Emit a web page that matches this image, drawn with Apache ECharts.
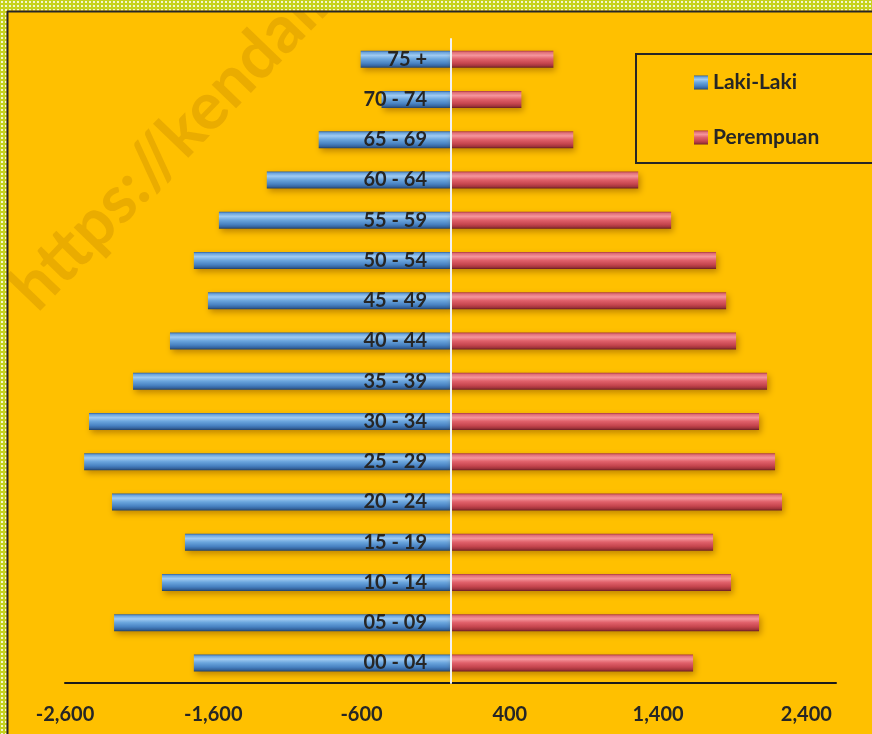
<!DOCTYPE html>
<html>
<head>
<meta charset="utf-8">
<script src="https://cdn.jsdelivr.net/npm/echarts@6/dist/echarts.min.js"></script>
<style>
html,body{margin:0;padding:0;background:#FFC000;}
#chart{width:872px;height:734px;}
</style>
</head>
<body>
<div id="chart"></div>
<script>
var categories = ['00 - 04','05 - 09','10 - 14','15 - 19','20 - 24','25 - 29','30 - 34','35 - 39','40 - 44','45 - 49','50 - 54','55 - 59','60 - 64','65 - 69','70 - 74','75 +'];
var lakiLaki = [-1731, -2269, -1946, -1791, -2283, -2471, -2438, -2141, -1892, -1636, -1731, -1562, -1239, -889, -465, -606];
var perempuan = [1636, 2081, 1892, 1771, 2236, 2189, 2081, 2135, 1926, 1859, 1791, 1488, 1266, 828, 478, 694];
var seriesNames = ['Laki-Laki', 'Perempuan'];
var watermark = 'https://kendalkab.go.id';

var FONT = 'Lato, "Open Sans", sans-serif';

function grad(stops) {
  return new echarts.graphic.LinearGradient(0, 0, 0, 1, stops.map(function (s) { return { offset: s[0], color: s[1] }; }));
}
var blueGrad = grad([[0,'#2c5a96'],[0.1,'#6aa3dc'],[0.28,'#a0cbf2'],[0.5,'#6aa5dd'],[0.75,'#4882c2'],[0.9,'#35649e'],[1,'#24436a']]);
var redGrad = grad([[0,'#a3323a'],[0.1,'#e06f78'],[0.28,'#f5959c'],[0.5,'#e0606a'],[0.75,'#c5454e'],[0.9,'#a2343b'],[1,'#6c1f24']]);

// dotted yellow-green pattern for frame
var pc = document.createElement('canvas');
pc.width = 4; pc.height = 4;
var pctx = pc.getContext('2d');
pctx.fillStyle = '#c6d21e'; pctx.fillRect(0,0,4,4);
pctx.fillStyle = '#f4f6d0'; pctx.fillRect(1,1,2,2);

var GRID_LEFT = 65;
var chart = echarts.init(document.getElementById('chart'), null, {renderer: 'canvas'});
var option = {
  backgroundColor: '#FFC000',
  animation: false,
  grid: { left: GRID_LEFT, right: 36, top: 39, bottom: 51, containLabel: false, outerBoundsMode: 'none' },
  xAxis: {
    type: 'value',
    min: -2600, max: 2600, interval: 1000,
    axisLine: { show: true, onZero: false, lineStyle: { color: '#1a1a1a', width: 2 } },
    axisTick: { show: false },
    splitLine: { show: false },
    axisLabel: {
      showMaxLabel: false,
      margin: 22,
      fontFamily: FONT, fontWeight: 'bold', fontSize: 20, color: '#262626',
      formatter: function (v) { return v.toLocaleString('en-US'); }
    }
  },
  yAxis: {
    type: 'category',
    data: categories,
    z: 10,
    axisLine: { show: true, onZero: true, lineStyle: { color: '#f2f2f2', width: 2 } },
    axisTick: { show: false },
    splitLine: { show: false },
    axisLabel: {
      margin: -(427 - GRID_LEFT),
      align: 'right',
      fontFamily: FONT, fontWeight: 'bold', fontSize: 20, color: '#262626'
    }
  },
  legend: {
    orient: 'vertical',
    left: 689, top: 67,
    itemWidth: 14, itemHeight: 14,
    itemGap: 34,
    icon: 'rect',
    textStyle: { fontFamily: FONT, fontWeight: 'bold', fontSize: 21, color: '#262626', lineHeight: 21 },
    data: seriesNames
  },
  series: [
    {
      name: seriesNames[0], type: 'bar', data: lakiLaki,
      barWidth: 17, barGap: '-100%',
      itemStyle: { color: blueGrad, shadowColor: 'rgba(110,60,0,0.45)', shadowBlur: 6, shadowOffsetX: 2, shadowOffsetY: 3 }
    },
    {
      name: seriesNames[1], type: 'bar', data: perempuan,
      barWidth: 17, barGap: '-100%',
      itemStyle: { color: redGrad, shadowColor: 'rgba(110,60,0,0.45)', shadowBlur: 6, shadowOffsetX: 2, shadowOffsetY: 3 }
    }
  ],
  graphic: [
    { type: 'text', x: 46, y: 322, rotation: Math.PI * 46 / 180, z: 0, silent: true,
      style: { text: watermark, font: 'bold 66px ' + FONT, fill: 'rgba(200,140,0,0.38)', textAlign: 'left', textVerticalAlign: 'bottom' } },
    { type: 'rect', z: 50, silent: true, shape: { x: 0, y: 0, width: 872, height: 10.5 }, style: { fill: { image: pc, repeat: 'repeat' } } },
    { type: 'rect', z: 50, silent: true, shape: { x: 0, y: 0, width: 6.5, height: 734 }, style: { fill: { image: pc, repeat: 'repeat' } } },
    { type: 'line', z: 51, silent: true, shape: { x1: 7, y1: 11.5, x2: 872, y2: 11.5 }, style: { stroke: '#262626', lineWidth: 2 } },
    { type: 'line', z: 51, silent: true, shape: { x1: 7.5, y1: 11, x2: 7.5, y2: 734 }, style: { stroke: '#262626', lineWidth: 2 } },
    { type: 'rect', z: 5, silent: true, shape: { x: 636, y: 54, width: 300, height: 109 }, style: { fill: 'none', stroke: '#262626', lineWidth: 2 } }
  ]
};
chart.setOption(option);
</script>
</body>
</html>
